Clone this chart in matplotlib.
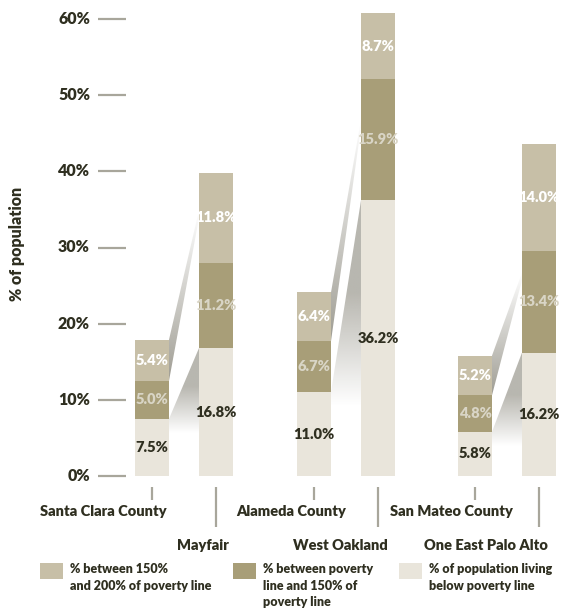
import matplotlib
matplotlib.use("Agg")
import matplotlib.pyplot as plt
import numpy as np
from matplotlib.patches import Polygon

# ---------------- data ----------------
categories = ["Santa Clara County", "Mayfair", "Alameda County", "West Oakland",
              "San Mateo County", "One East Palo Alto"]
below_poverty = [7.5, 16.8, 11.0, 36.2, 5.8, 16.2]
poverty_to_150 = [5.0, 11.2, 6.7, 15.9, 4.8, 13.4]
between_150_200 = [5.4, 11.8, 6.4, 8.7, 5.2, 14.0]
y_ticks = [0, 10, 20, 30, 40, 50, 60]
legend_labels = ["% between 150%\nand 200% of poverty line",
                 "% between poverty\nline and 150% of\npoverty line",
                 "% of population living\nbelow poverty line"]

# ---------------- style ----------------
C_TOP = "#c7bfa7"
C_MID = "#a89e78"
C_BOT = "#e9e5db"
C_TEXT = "#2f2f20"
C_TICK = "#a8a69b"
FONT = ["Lato", "DejaVu Sans"]
plt.rcParams["font.family"] = FONT
WT = "heavy"

W, H = 561, 610
fig = plt.figure(figsize=(W / 100, H / 100), dpi=100)

PX_PER_PCT = (476 - 19) / 60.0
ax = fig.add_axes([0, 0, 1, 1])
ax.set_xlim(0, W)
ax.set_ylim(-(H - 476) / PX_PER_PCT, 476 / PX_PER_PCT)
ax.axis("off")

pa = fig.add_axes([0, 0, 1, 1], zorder=5)
pa.set_xlim(0, W)
pa.set_ylim(H, 0)
pa.axis("off")
pa.patch.set_alpha(0)

xpos = [152, 216, 314, 378, 475, 539]
bw = 34

b0 = np.array(below_poverty)
b1 = np.array(poverty_to_150)
b2 = np.array(between_150_200)

# ---------------- gradient wedges ----------------
gray = np.array(matplotlib.colors.to_rgb("#9a988e"))

def gradient_poly(verts, y_dark, y_light, amax=0.9):
    poly = Polygon(verts, closed=True, facecolor="none", edgecolor="none")
    ax.add_patch(poly)
    xs = [v[0] for v in verts]
    ys = [v[1] for v in verts]
    y0, y1 = min(ys), max(ys)
    n = 200
    yy = np.linspace(y0, y1, n)
    t = np.clip((yy - y_light) / (y_dark - y_light), 0, 1)
    img = np.zeros((n, 2, 4))
    img[:, :, :3] = gray
    img[:, :, 3] = (t * amax)[:, None]
    im = ax.imshow(img, extent=[min(xs), max(xs), y0, y1], origin="lower",
                   aspect="auto", interpolation="bilinear", zorder=1)
    im.set_clip_path(poly)

upper_targets = [33.9, 45.8, 25.7]
for g in range(3):
    s, b = 2 * g, 2 * g + 1
    xr = xpos[s] + bw / 2
    xl = xpos[b] - bw / 2
    s_bt = b0[s]
    s_mt = b0[s] + b1[s]
    s_tt = s_mt + b2[s]
    b_bt = b0[b]
    tgt = upper_targets[g]
    gradient_poly([(xr, s_mt), (xr, s_tt), (xl, tgt + 1.0), (xl, tgt)],
                  y_dark=s_mt, y_light=tgt + 1.0, amax=0.95)
    ybot = s_bt - 1.8
    gradient_poly([(xr, s_bt), (xl, b_bt), (xl, ybot), (xr, ybot)],
                  y_dark=b_bt - (b_bt - ybot) * 0.45, y_light=ybot, amax=0.7)

# ---------------- bars ----------------
ax.bar(xpos, b0, width=bw, color=C_BOT, zorder=3, linewidth=0)
ax.bar(xpos, b1, width=bw, bottom=b0, color=C_MID, zorder=3, linewidth=0)
ax.bar(xpos, b2, width=bw, bottom=b0 + b1, color=C_TOP, zorder=3, linewidth=0)

for i, x in enumerate(xpos):
    ax.text(x, b0[i] / 2, f"{b0[i]:.1f}%", ha="center", va="center",
            fontsize=10.5, fontweight=WT, color=C_TEXT, zorder=4)
    ax.text(x, b0[i] + b1[i] / 2, f"{b1[i]:.1f}%", ha="center", va="center",
            fontsize=10.5, fontweight=WT, color="#d9d5c6", zorder=4)
    ax.text(x, b0[i] + b1[i] + b2[i] / 2, f"{b2[i]:.1f}%", ha="center", va="center",
            fontsize=10.5, fontweight=WT, color="white", zorder=4)

# ---------------- y axis ----------------
for t in y_ticks:
    ax.plot([98, 126], [t, t], color=C_TICK, lw=1.6, solid_capstyle="butt", zorder=2)
    ax.text(90, t, f"{t}%", ha="right", va="center", fontsize=11.5,
            fontweight=WT, color=C_TEXT)
pa.text(17, 244, "% of population", rotation=90, ha="center", va="center",
        fontsize=11.5, fontweight=WT, color=C_TEXT)

# ---------------- category labels ----------------
label_right = [167, 229, 346, 388, 513, 548]
for i, x in enumerate(xpos):
    if i % 2 == 0:
        pa.plot([x, x], [487, 500], color=C_TICK, lw=1.6, solid_capstyle="butt")
        pa.text(label_right[i], 512, categories[i], ha="right", va="center",
                fontsize=10.5, fontweight=WT, color=C_TEXT)
    else:
        pa.plot([x, x], [487, 527], color=C_TICK, lw=1.6, solid_capstyle="butt")
        pa.text(label_right[i], 546, categories[i], ha="right", va="center",
                fontsize=10.5, fontweight=WT, color=C_TEXT)

# ---------------- legend ----------------
leg_x = [40, 233, 399]
leg_colors = [C_TOP, C_MID, C_BOT]
for lx, lc, ll in zip(leg_x, leg_colors, legend_labels):
    pa.add_patch(plt.Rectangle((lx, 563), 23, 16, facecolor=lc, edgecolor="none"))
    pa.text(lx + 30, 563, ll, ha="left", va="top", fontsize=9,
            fontweight=WT, color=C_TEXT, linespacing=1.45)

fig.savefig("out.png", dpi=100)
